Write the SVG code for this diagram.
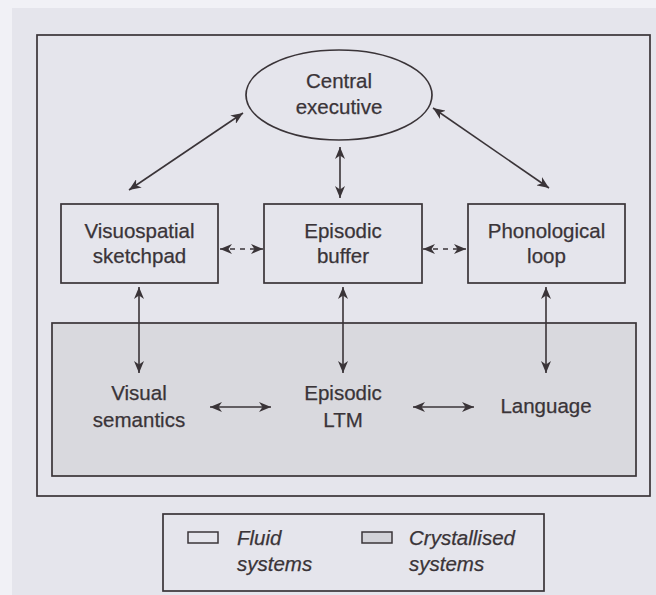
<svg xmlns="http://www.w3.org/2000/svg" width="656" height="595" viewBox="0 0 656 595">
<style>
.t{font-family:"Liberation Sans",Arial,sans-serif;font-size:20.5px;fill:#3a3438;stroke:#3a3438;stroke-width:0.25;text-anchor:middle}
.i{font-family:"Liberation Sans",Arial,sans-serif;font-size:20.5px;font-style:italic;fill:#3a3438;stroke:#3a3438;stroke-width:0.25}
.box{fill:none;stroke:#3a3438;stroke-width:1.7}
.ln{stroke:#3a3438;stroke-width:1.6;fill:none;marker-start:url(#ah);marker-end:url(#ah)}
.dash{stroke-dasharray:5 5}
</style>
<defs>
<marker id="ah" markerUnits="userSpaceOnUse" markerWidth="13" markerHeight="10" refX="12" refY="5" orient="auto-start-reverse" viewBox="0 0 13 10">
<path d="M0,0 L12,5 L0,10 L3.5,5 z" fill="#3a3438"/>
</marker>
</defs>
<rect x="0" y="0" width="656" height="595" fill="#e5e5ec"/>
<rect x="0" y="0" width="656" height="8" fill="#f1f1f6"/>
<rect x="0" y="0" width="12" height="595" fill="#f1f1f6"/>
<g id="frame"><rect class="box" x="37" y="35" width="613" height="461"/></g>
<g id="crystallised-region"><rect x="52" y="323" width="584" height="153" fill="#d9d9de" stroke="#3a3438" stroke-width="1.7"/></g>
<g id="central-executive">
<ellipse class="box" cx="339" cy="95" rx="93" ry="45"/>
<text class="t" x="339" y="88">Central</text>
<text class="t" x="339" y="114">executive</text>
</g>
<g id="visuospatial-sketchpad">
<rect class="box" x="61" y="204" width="157" height="79"/>
<text class="t" x="139.5" y="238">Visuospatial</text>
<text class="t" x="139.5" y="263">sketchpad</text>
</g>
<g id="episodic-buffer">
<rect class="box" x="264" y="204" width="158" height="79"/>
<text class="t" x="343" y="238">Episodic</text>
<text class="t" x="343" y="263">buffer</text>
</g>
<g id="phonological-loop">
<rect class="box" x="468" y="204" width="157" height="79"/>
<text class="t" x="546.5" y="238">Phonological</text>
<text class="t" x="546.5" y="263">loop</text>
</g>
<g id="visual-semantics">
<text class="t" x="139" y="400">Visual</text>
<text class="t" x="139" y="427">semantics</text>
</g>
<g id="episodic-ltm">
<text class="t" x="343" y="400">Episodic</text>
<text class="t" x="343" y="427">LTM</text>
</g>
<g id="language">
<text class="t" x="546" y="413">Language</text>
</g>
<g id="connectors">
<line class="ln" x1="129" y1="190" x2="243" y2="113"/>
<line class="ln" x1="433" y1="108" x2="549" y2="188"/>
<line class="ln" x1="340" y1="147" x2="340" y2="198"/>
<line class="ln dash" x1="220" y1="249" x2="263" y2="249"/>
<line class="ln dash" x1="423" y1="249" x2="466" y2="249"/>
<line class="ln" x1="139" y1="287" x2="139" y2="373"/>
<line class="ln" x1="343" y1="287" x2="343" y2="373"/>
<line class="ln" x1="546" y1="287" x2="546" y2="373"/>
<line class="ln" x1="210" y1="407" x2="271" y2="407"/>
<line class="ln" x1="413" y1="407" x2="474" y2="407"/>
</g>
<g id="legend">
<rect class="box" x="163" y="514" width="381" height="77"/>
<rect x="188" y="532" width="30" height="11" fill="#e5e5ec" stroke="#3a3438" stroke-width="1.5"/>
<text class="i" x="237" y="545">Fluid</text>
<text class="i" x="237" y="571">systems</text>
<rect x="362" y="532" width="30" height="11" fill="#d2d2d8" stroke="#3a3438" stroke-width="1.5"/>
<text class="i" x="409" y="545">Crystallised</text>
<text class="i" x="409" y="571">systems</text>
</g>
</svg>
